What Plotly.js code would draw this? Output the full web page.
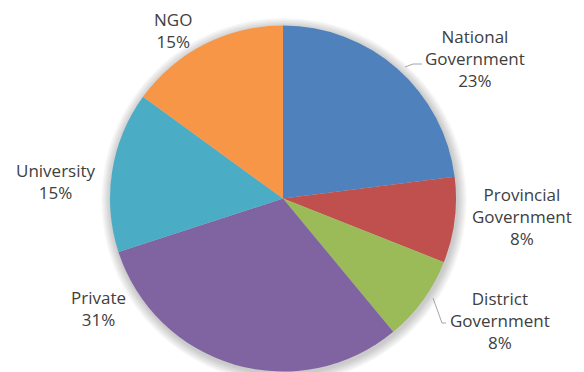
<!DOCTYPE html>
<html>
<head>
<meta charset="utf-8">
<script src="https://cdn.plot.ly/plotly-3.0.1.min.js"></script>
<style>html,body{margin:0;padding:0;background:#fff;}#chart{width:584px;height:372px;}</style>
</head>
<body>
<div id="chart"></div>
<script>
const labels = ["National Government", "Provincial Government", "District Government", "Private", "University", "NGO"];
const values = [23, 8, 8, 31, 15, 15];
const colors = ["#4F81BD", "#C0504D", "#9BBB59", "#8064A2", "#4BACC6", "#F79646"];
const labelText = ["National<br>Government<br>23%", "Provincial<br>Government<br>8%", "District<br>Government<br>8%", "Private<br>31%", "University<br>15%", "NGO<br>15%"];

const W = 584, H = 372;
const cx = 283, cy = 198.5, r = 173;
const px = x => x / W;
const py = y => 1 - y / H;

// label centres (pixels)
const labelPos = [[475, 59], [522, 216], [500, 320], [98, 308], [56, 181], [173, 30]];

const annotations = labels.map((l, i) => ({
  text: labelText[i],
  x: px(labelPos[i][0]), y: py(labelPos[i][1]),
  xref: 'paper', yref: 'paper', xanchor: 'center', yanchor: 'middle',
  showarrow: false, align: 'center',
  font: {family: 'Open Sans, sans-serif', size: 17, color: '#404040'}
}));

const shapes = [];
// soft shadow
for (let k = 6; k >= 1; k--) {
  const rr = r + k * 1.6;
  shapes.push({type: 'circle', xref: 'paper', yref: 'paper', layer: 'below',
    x0: px(cx - rr + 1), x1: px(cx + rr + 1), y0: py(cy + rr + 2), y1: py(cy - rr + 2),
    fillcolor: 'rgba(0,0,0,0.035)', line: {width: 0}});
}
const leader = (pts) => ({type: 'path', xref: 'paper', yref: 'paper', layer: 'above',
  path: 'M ' + pts.map(p => px(p[0]) + ',' + py(p[1])).join(' L '),
  line: {color: '#A6A6A6', width: 1}});
shapes.push(leader([[405, 67], [413, 64], [422, 64]]));
shapes.push(leader([[433, 298], [442, 323], [446, 323]]));

const trace = {
  type: 'pie',
  labels: labels,
  values: values,
  marker: {colors: colors, line: {width: 0}},
  sort: false,
  direction: 'clockwise',
  rotation: 0,
  textinfo: 'none',
  hoverinfo: 'label+percent',
  domain: {x: [px(cx - r), px(cx + r)], y: [py(cy + r), py(cy - r)]},
  showlegend: false
};

Plotly.newPlot('chart', [trace], {
  width: W, height: H,
  margin: {l: 0, r: 0, t: 0, b: 0},
  paper_bgcolor: '#ffffff',
  showlegend: false,
  annotations: annotations,
  shapes: shapes
}, {displayModeBar: false, staticPlot: true});
</script>
</body>
</html>
